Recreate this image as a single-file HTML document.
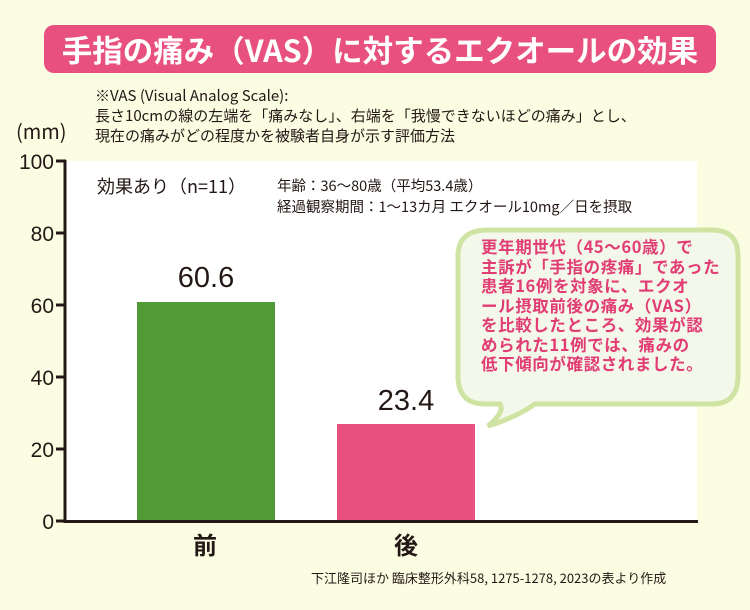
<!DOCTYPE html>
<html><head><meta charset="utf-8"><style>
body{margin:0;width:750px;height:610px;background:#fbfde3;position:relative;overflow:hidden;font-family:"Noto Sans CJK JP","Liberation Sans",sans-serif;color:#231815}
.a{position:absolute;white-space:nowrap}
</style></head><body>
<div class="a" style="left:44px;top:25px;width:672px;height:48px;background:#e8517f;border-radius:10px"></div>
<div class="a" style="left:44px;top:25px;width:672px;height:48px;line-height:48px;text-align:center;color:#fff;font-size:30.5px;font-weight:bold">手指の痛み（VAS）に対するエクオールの効果</div>
<div class="a" style="left:95px;top:86px;font-size:15px;line-height:20px">※VAS (Visual Analog Scale):<br>長さ10cmの線の左端を「痛みなし」、右端を「我慢できないほどの痛み」とし、<br>現在の痛みがどの程度かを被験者自身が示す評価方法</div>
<div class="a" style="left:16px;top:116px;font-size:20px">(mm)</div>
<div class="a" style="left:66px;top:161px;width:631px;height:360px;background:#fff"></div>
<svg class="a" style="left:0;top:0" width="750" height="610">
<rect x="137" y="302" width="138" height="219" fill="#529a35"/>
<rect x="337" y="424" width="138" height="97" fill="#e8517f"/>
<line x1="65" y1="160" x2="65" y2="523" stroke="#231815" stroke-width="3"/>
<line x1="64" y1="521.5" x2="698" y2="521.5" stroke="#231815" stroke-width="3"/>
<g stroke="#231815" stroke-width="3">
<line x1="56" y1="161" x2="66" y2="161"/><line x1="56" y1="233" x2="66" y2="233"/><line x1="56" y1="305" x2="66" y2="305"/><line x1="56" y1="377" x2="66" y2="377"/><line x1="56" y1="449" x2="66" y2="449"/><line x1="56" y1="521" x2="66" y2="521"/>
</g>
<g font-size="21" text-anchor="end" fill="#231815" font-family="Liberation Sans,sans-serif">
<text x="54" y="169">100</text><text x="54" y="241">80</text><text x="54" y="313">60</text><text x="54" y="385">40</text><text x="54" y="457">20</text><text x="54" y="529">0</text>
</g>
<path d="M488,230 H712 Q738,230 738,256 V376 Q738,404 712,404 H535 Q515,418 488,426 Q505,412 500,404 H485 Q458,404 458,376 V256 Q458,230 488,230 Z" fill="#f3f8ea" stroke="#cfe3a3" stroke-width="5"/>
</svg>
<div class="a" style="left:97px;top:173px;font-size:18px">効果あり（n=11）</div>
<div class="a" style="left:277px;top:175px;font-size:14.5px;line-height:21px">年齢：36〜80歳（平均53.4歳）<br>経過観察期間：1〜13カ月 エクオール10mg／日を摂取</div>
<div class="a" style="left:166px;top:262px;width:80px;text-align:center;font-size:29px;font-family:'Liberation Sans',sans-serif">60.6</div>
<div class="a" style="left:366px;top:385px;width:80px;text-align:center;font-size:29px;font-family:'Liberation Sans',sans-serif">23.4</div>
<div class="a" style="left:481px;top:237px;font-size:16.5px;font-weight:bold;color:#e23c74;line-height:19.5px;letter-spacing:0.6px">更年期世代（45〜60歳）で<br>主訴が「手指の疼痛」であった<br>患者16例を対象に、エクオ<br>ール摂取前後の痛み（VAS）<br>を比較したところ、効果が認<br>められた11例では、痛みの<br>低下傾向が確認されました。</div>
<div class="a" style="left:193px;top:526px;font-size:24px;font-weight:bold">前</div>
<div class="a" style="left:394px;top:526px;font-size:24px;font-weight:bold">後</div>
<div class="a" style="left:311px;top:568px;font-size:13px">下江隆司ほか 臨床整形外科58, 1275-1278, 2023の表より作成</div>
</body></html>
